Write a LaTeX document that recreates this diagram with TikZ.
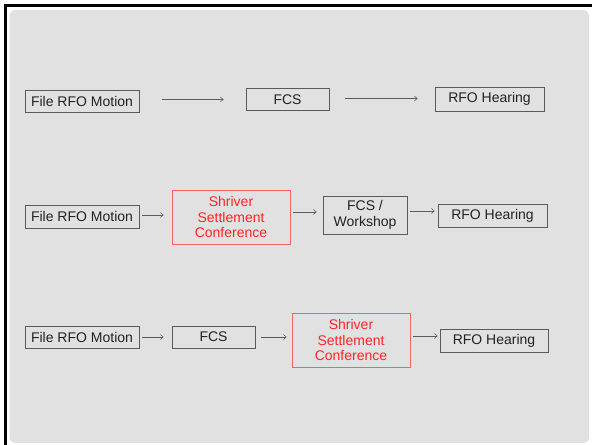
\documentclass[tikz,border=0pt]{standalone}
\usepackage{fontspec}
\setmainfont{Liberation Sans}
\usetikzlibrary{arrows.meta}
\definecolor{bggray}{HTML}{E1E1E1}
\definecolor{boxline}{HTML}{5A5A5A}
\definecolor{redtxt}{HTML}{FF2424}
\definecolor{redline}{HTML}{F06464}
\definecolor{txt}{HTML}{222222}
\tikzset{
  stepbox/.style={draw=boxline, line width=0.6bp, inner sep=0pt, align=center,
    text=txt, font=\fontsize{14bp}{15.8bp}\selectfont},
  redbox/.style={stepbox, draw=redline, text=redtxt},
  arr/.style={draw=boxline, line width=0.5bp, -{Straight Barb[length=3bp,width=5bp]}},
}
\begin{document}
\begin{tikzpicture}[x=1bp,y=-1bp]
\useasboundingbox (0,0) rectangle (592,445);
\fill[white] (0,0) rectangle (592,445);
\fill[black] (4,4.5) rectangle (592,7);
\fill[black] (4,4.5) rectangle (6.8,445);
\fill[bggray, rounded corners=6bp] (9.5,10) rectangle (589,443);

% Row 1
\node[stepbox, minimum width=114bp, minimum height=22bp] (m1) at (82,101) {File RFO Motion};
\node[stepbox, minimum width=83bp, minimum height=22bp] (f1) at (287.5,99.5) {FCS};
\node[stepbox, minimum width=109bp, minimum height=24bp] (h1) at (489.5,99) {RFO Hearing};
\draw[arr, shorten <=23bp, shorten >=22bp] (m1.east |- f1.west) -- (f1.west);
\draw[arr, shorten <=16bp, shorten >=17bp] ([yshift=1bp]f1.east) -- ([yshift=1bp]f1.east -| h1.west);

% Row 2
\node[stepbox, minimum width=114bp, minimum height=23bp] (m2) at (82,216.5) {File RFO Motion};
\node[redbox, minimum width=118bp, minimum height=54bp] (s2) at (231,217) {Shriver\\Settlement\\Conference};
\node[stepbox, minimum width=84bp, minimum height=38bp] (w2) at (365,215) {FCS /\\Workshop};
\node[stepbox, minimum width=109bp, minimum height=23bp] (h2) at (492.5,215.5) {RFO Hearing};
\draw[arr, shorten <=3bp, shorten >=8bp] ([yshift=1.5bp]m2.east) -- ([yshift=1.5bp]m2.east -| s2.west);
\draw[arr, shorten <=3bp, shorten >=6bp] ([yshift=5bp]s2.east) -- ([yshift=5bp]s2.east -| w2.west);
\draw[arr, shorten <=3bp, shorten >=3bp] ([yshift=4bp]w2.east) -- ([yshift=4bp]w2.east -| h2.west);

% Row 3
\node[stepbox, minimum width=114bp, minimum height=22bp] (m3) at (82,337) {File RFO Motion};
\node[stepbox, minimum width=83bp, minimum height=22bp] (f3) at (213.5,337) {FCS};
\node[redbox, minimum width=118bp, minimum height=54bp] (s3) at (351,340) {Shriver\\Settlement\\Conference};
\node[stepbox, minimum width=108bp, minimum height=23bp] (h3) at (494,340.5) {RFO Hearing};
\draw[arr, shorten <=3bp, shorten >=8bp] (m3.east) -- (f3.west);
\draw[arr, shorten <=6bp, shorten >=5bp] (f3.east) -- (f3.east -| s3.west);
\draw[arr, shorten <=3bp, shorten >=2bp] ([yshift=4bp]s3.east) -- ([yshift=4bp]s3.east -| h3.west);
\end{tikzpicture}
\end{document}
